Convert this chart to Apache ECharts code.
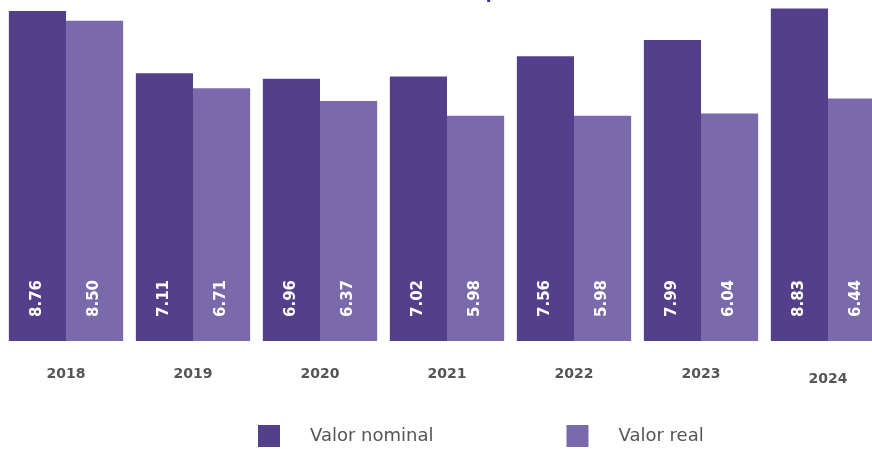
<!DOCTYPE html>
<html>
<head>
<meta charset="utf-8">
<script src="https://cdn.jsdelivr.net/npm/echarts@6/dist/echarts.min.js"></script>
<style>html,body{margin:0;padding:0;background:#fff}#c{width:872px;height:449px}</style>
</head>
<body>
<div id="c"></div>
<script>
const years = ['2018','2019','2020','2021','2022','2023','2024'];
const nominal = [8.76, 7.11, 6.96, 7.02, 7.56, 7.99, 8.83];
const real = [8.50, 6.71, 6.37, 5.98, 5.98, 6.04, 6.44];
const seriesNames = ['Valor nominal', 'Valor real'];
const colors = ['#54408a', '#7a69ab'];

const chart = echarts.init(document.getElementById('c'));
const label = {
  show: true,
  position: 'insideBottom',
  rotate: 90,
  align: 'left',
  verticalAlign: 'middle',
  distance: 24,
  color: '#ffffff',
  fontFamily: 'DejaVu Sans',
  fontWeight: 'bold',
  fontSize: 15,
  formatter: p => p.value.toFixed(2)
};
chart.setOption({
  animation: false,
  graphic: [{
    type: 'text', left: 478, top: -15,
    style: { text: '(pesos)', fontSize: 17, fontFamily: 'DejaVu Sans', fontWeight: 'bold', fill: '#3b2aa8' }
  }],
  legend: {
    left: 258, top: 425, padding: 0,
    itemWidth: 22, itemHeight: 22, itemGap: 133,
    icon: 'rect',
    textStyle: { color: '#555', fontSize: 18, fontFamily: 'DejaVu Sans', padding: [0, 0, 0, 25] },
    data: seriesNames
  },
  grid: { left: 66, right: 44, top: 2, bottom: 108, containLabel: false },
  xAxis: {
    type: 'category',
    boundaryGap: false,
    data: years.map((y, i) => i === years.length - 1 ? { value: y, textStyle: { padding: [5, 0, 0, 0] } } : y),
    axisLine: { show: false }, axisTick: { show: false }, splitLine: { show: false },
    axisLabel: { margin: 26, color: '#555', fontSize: 14, fontWeight: 'bold', fontFamily: 'DejaVu Sans' }
  },
  yAxis: { type: 'value', min: 0, max: 9, show: false, splitLine: { show: false } },
  series: [
    { name: seriesNames[0], type: 'bar', clip: false, data: nominal, barGap: '0%', barCategoryGap: '10%', itemStyle: { color: colors[0] }, label },
    { name: seriesNames[1], type: 'bar', clip: false, data: real, barGap: '0%', barCategoryGap: '10%', itemStyle: { color: colors[1] }, label }
  ]
});
</script>
</body>
</html>
